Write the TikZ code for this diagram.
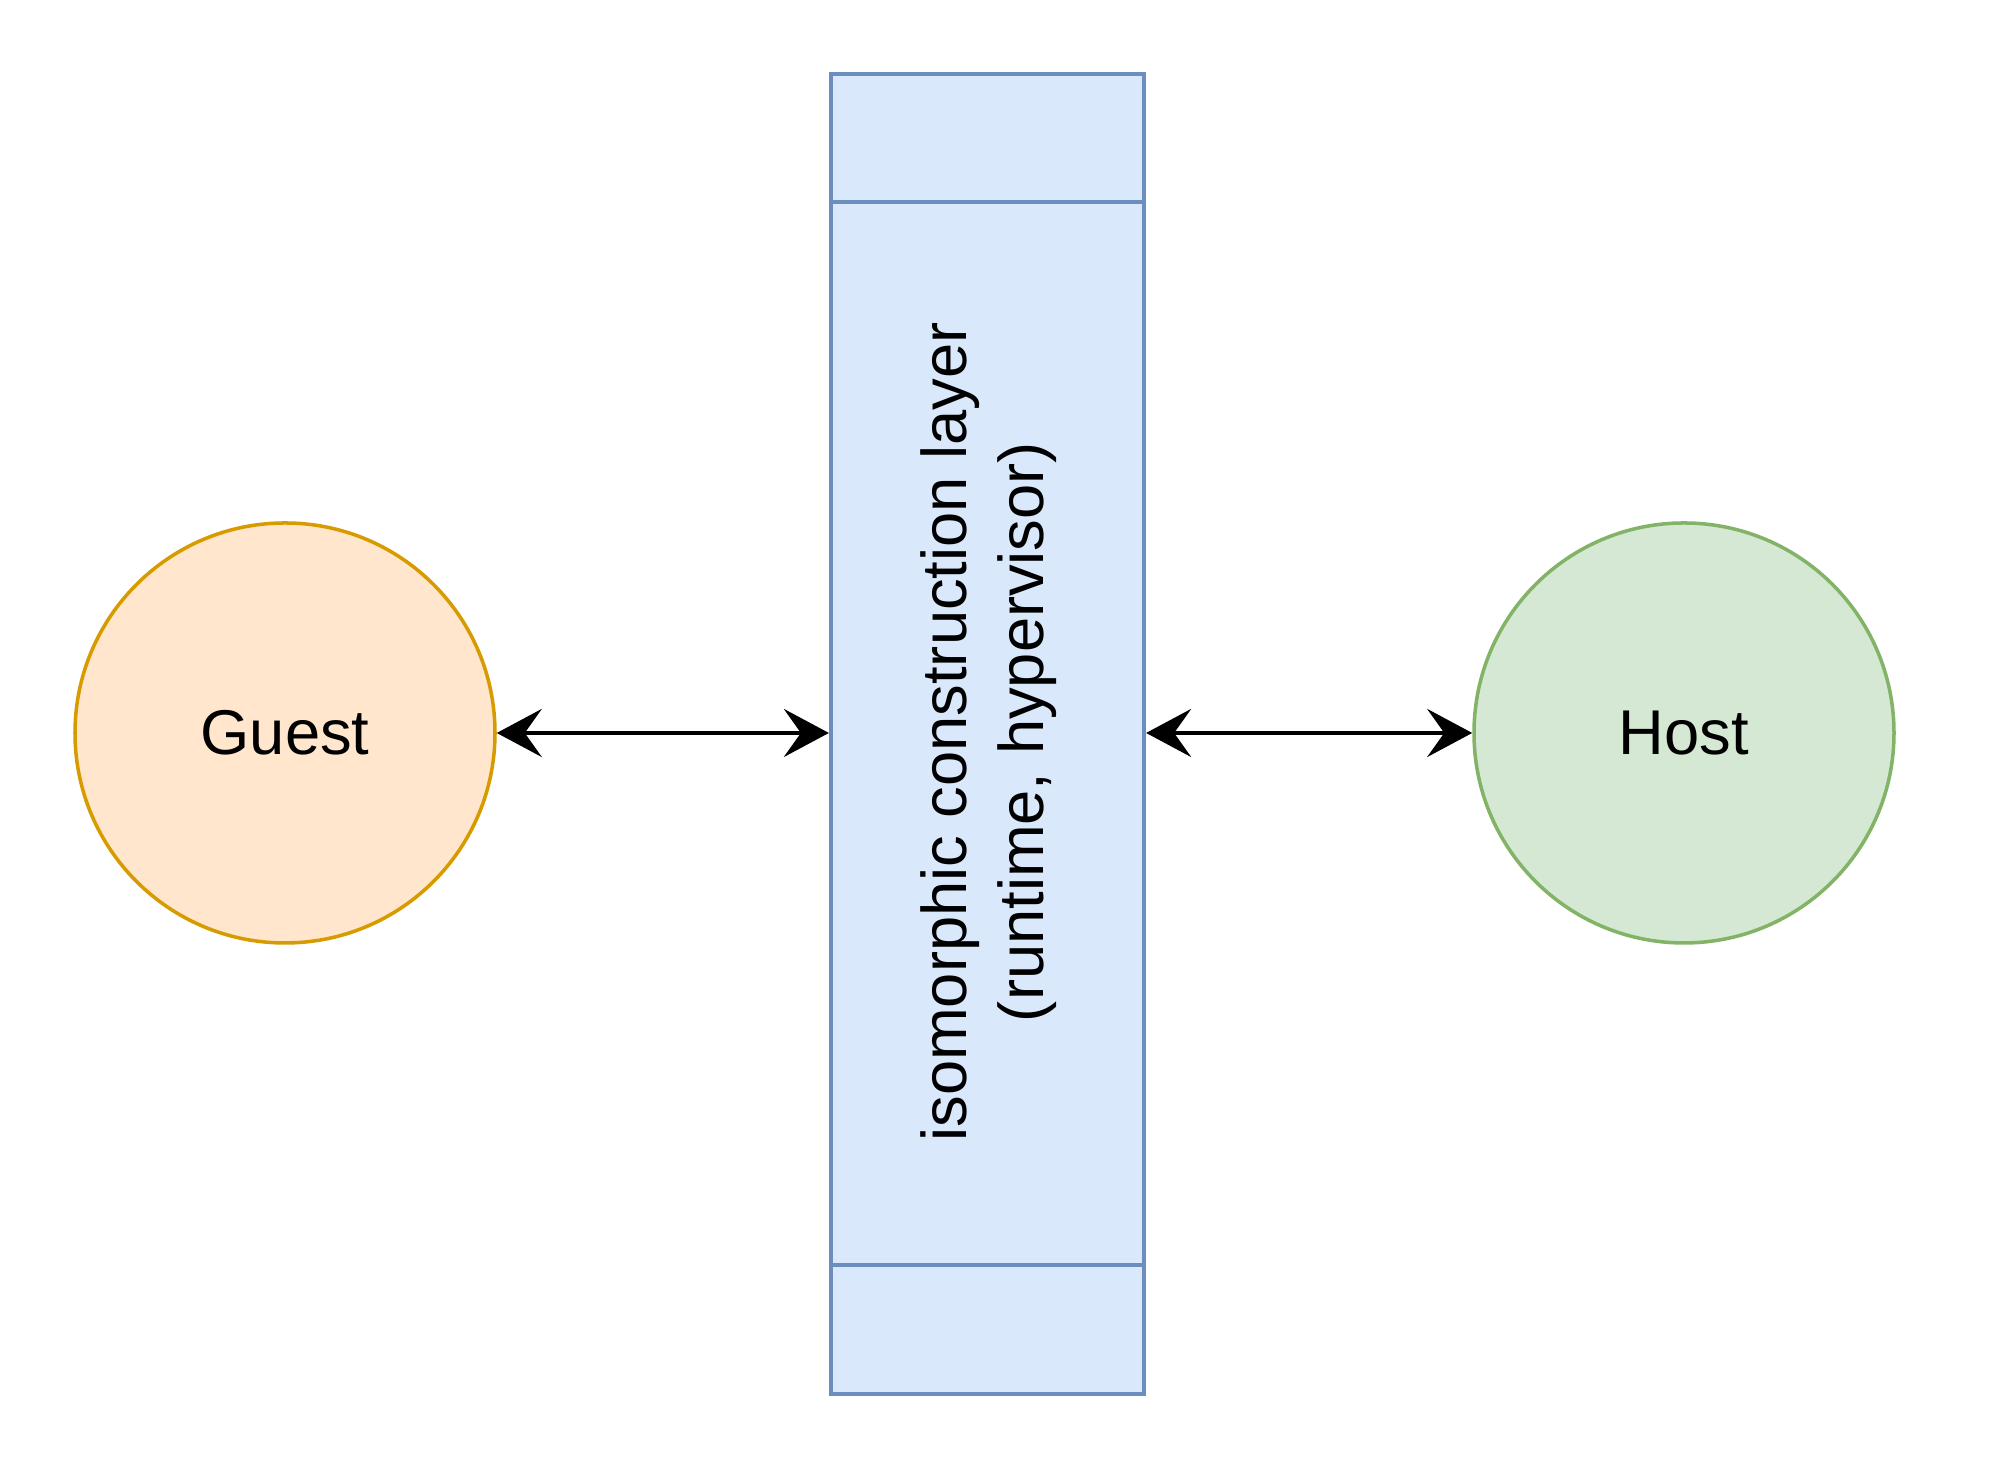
\documentclass[tikz,border=0pt]{standalone}
\usepackage{fontspec}
\setmainfont{Liberation Sans}
\usetikzlibrary{arrows.meta,calc}
\definecolor{guestfill}{HTML}{FFE6CC}
\definecolor{guestdraw}{HTML}{D79B00}
\definecolor{hostfill}{HTML}{D5E8D4}
\definecolor{hostdraw}{HTML}{82B366}
\definecolor{layerfill}{HTML}{DAE8FC}
\definecolor{layerdraw}{HTML}{6C8EBF}
\tikzset{
  roundnode/.style={circle, minimum size=4.2cm, inner sep=0pt, line width=1pt, font=\fontsize{18}{21.6}\selectfont},
  layerbox/.style={rectangle, minimum width=3.13cm, minimum height=13.2cm, inner sep=0pt, fill=layerfill, draw=layerdraw, line width=1.2pt},
  conn/.style={line width=1.2pt, {Stealth[length=0.45cm,width=0.48cm,inset=0.17cm]}-{Stealth[length=0.45cm,width=0.48cm,inset=0.17cm]}},
}
\begin{document}
\begin{tikzpicture}
\useasboundingbox[fill=white] (0,0) rectangle (20,14.62);
\node[roundnode, fill=guestfill, draw=guestdraw] (guest) at (2.85,7.29) {Guest};
\node[roundnode, fill=hostfill, draw=hostdraw] (host) at (16.84,7.29) {Host};
\node[layerbox] (layer) at (9.875,7.28) {};
\coordinate (tl) at ($(layer.north west)+(0,-1.30)$);
\coordinate (tr) at ($(layer.north east)+(0,-1.30)$);
\coordinate (bl) at ($(layer.south west)+(0,1.31)$);
\coordinate (br) at ($(layer.south east)+(0,1.31)$);
\draw[draw=layerdraw, line width=1.2pt] (tl) -- (tr);
\draw[draw=layerdraw, line width=1.2pt] (bl) -- (br);
\node[rotate=90, align=center, font=\fontsize{18}{21.9}\selectfont] (label) at (9.885,7.30) {isomorphic construction layer\\(runtime, hypervisor)};
\draw[conn] (guest.east) -- (guest.east -| layer.west);
\draw[conn] (layer.east |- host.west) -- (host.west);
\end{tikzpicture}
\end{document}
